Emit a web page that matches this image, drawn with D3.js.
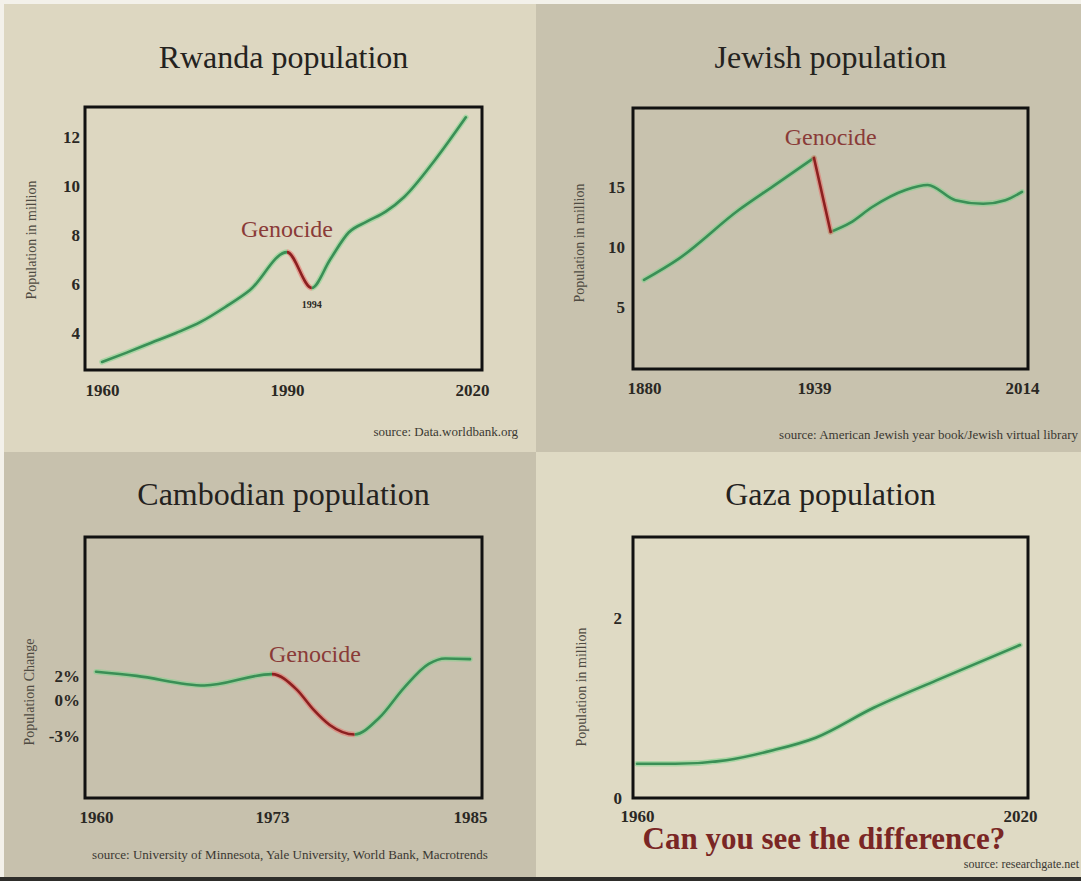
<!DOCTYPE html>
<html lang="en">
<head>
<meta charset="utf-8">
<title>Can you see the difference?</title>
<script src="https://d3js.org/d3.v7.min.js"></script>
<style type="text/css">
  body { margin: 0; background: #ffffff; }
  svg { display: block; }
</style>
</head>
<body>
<div id="graph"></div>
<script type="text/javascript">

// ---- data ----
var rwandaYears = [1960, 1964, 1968, 1972, 1976, 1980, 1984, 1990, 1994, 1997, 2000, 2003, 2006, 2009, 2014, 2019];
var rwandaPop   = [2.82, 3.2, 3.6, 4.0, 4.45, 5.06, 5.75, 7.3, 5.84, 7.0, 8.1, 8.55, 8.95, 9.55, 11.06, 12.8];
var rwandaGenocide = [1990, 1994];
var rwandaXTicks = [1960, 1990, 2020];
var rwandaYTicks = [4, 6, 8, 10, 12];

var jewishYears = [1880, 1892, 1913, 1925, 1939, 1945, 1952, 1960, 1972, 1980, 1990, 2000, 2008, 2014];
var jewishPop   = [7.24, 9.0, 13.1, 15.1, 17.43, 11.25, 12.0, 13.33, 14.75, 15.17, 13.9, 13.6, 13.9, 14.6];
var jewishGenocide = [1939, 1945];
var jewishXTicks = [1880, 1939, 2014];
var jewishYTicks = [5, 10, 15];

var cambodiaYears  = [1960, 1963, 1968, 1973, 1974.5, 1975.5, 1976.5, 1978, 1979.5, 1981, 1982.5, 1983.5, 1985];
var cambodiaChange = [2.35, 2.0, 1.2, 2.15, 0.85, -0.8, -2.1, -2.9, -1.5, 1.0, 3.0, 3.45, 3.4];
var cambodiaGenocide = [1973, 1978];
var cambodiaXTicks = [1960, 1973, 1985];
var cambodiaYTicks = [2, 0, -3];

var gazaYears = [1960, 1966, 1974, 1981, 1988, 1997, 2007, 2020];
var gazaPop   = [0.38, 0.38, 0.42, 0.525, 0.67, 1.0, 1.31, 1.7];
var gazaXTicks = [1960, 2020];
var gazaYTicks = [0, 2];

var serif = "'Liberation Serif', 'Times New Roman', serif";
var W = 1081, H = 881;

var svg = d3.select("#graph")
  .append("svg")
  .attr("width", W)
  .attr("height", H)
  .attr("font-family", serif);

// photo frame: white top / left edge, dark bottom edge
svg.append("rect").attr("width", W).attr("height", H).attr("fill", "#f3f1ea");

function drawPanel(p) {
  var g = svg.append("g");
  var box = p.box; // left, top, right, bottom

  g.append("rect")
    .attr("x", p.bg[0]).attr("y", p.bg[1])
    .attr("width", p.bg[2]).attr("height", p.bg[3])
    .attr("fill", p.fill);

  var x = d3.scaleLinear().domain(p.xDomain).range(p.xRange);
  var y = d3.scaleLinear().domain(p.yDomain).range([box[3], box[1]]);

  // title
  g.append("text")
    .attr("x", (box[0] + box[2]) / 2)
    .attr("y", p.titleY)
    .attr("text-anchor", "middle")
    .attr("font-size", 32)
    .attr("fill", "#24221e")
    .text(p.title);

  // y axis title
  g.append("text")
    .attr("transform", "translate(" + p.yLabelPos[0] + "," + p.yLabelPos[1] + ") rotate(-90)")
    .attr("text-anchor", "middle")
    .attr("dominant-baseline", "middle")
    .attr("font-size", 14)
    .attr("fill", "#4f4b42")
    .text(p.yLabel);

  // axes (labels only)
  var xa = g.append("g")
    .attr("transform", "translate(0," + box[3] + ")")
    .call(d3.axisBottom(x).tickValues(p.xTicks).tickSize(0).tickPadding(p.xPad).tickFormat(d3.format("d")));
  xa.select(".domain").remove();
  xa.attr("font-family", serif).attr("font-size", 17).attr("font-weight", "bold").attr("color", "#2a2824");

  var ya = g.append("g")
    .attr("transform", "translate(" + box[0] + ",0)")
    .call(d3.axisLeft(y).tickValues(p.yTicks).tickSize(0).tickPadding(p.yPad).tickFormat(p.yFormat));
  ya.select(".domain").remove();
  ya.attr("font-family", serif).attr("font-size", 17).attr("font-weight", "bold").attr("color", "#2a2824");

  // series
  var pts = d3.zip(p.years, p.values);
  var line = d3.line()
    .x(function(d) { return x(d[0]); })
    .y(function(d) { return y(d[1]); })
    .curve(d3.curveMonotoneX);

  function stroke(data, outer, inner, clip) {
    var s = g.append("g");
    if (clip) s.attr("clip-path", "url(#" + clip + ")");
    s.append("path").datum(data).attr("d", line)
      .attr("fill", "none").attr("stroke", outer).attr("stroke-width", 5.5)
      .attr("stroke-opacity", 0.55).attr("stroke-linecap", "round");
    s.append("path").datum(data).attr("d", line)
      .attr("fill", "none").attr("stroke", inner).attr("stroke-width", 2.6)
      .attr("stroke-linecap", "round");
  }

  var greenOuter = "#7ed38b", greenInner = "#3a8f56";
  var redOuter = "#e86b66", redInner = "#8c2020";

  if (!p.genocide) {
    stroke(pts, greenOuter, greenInner);
  } else if (p.split === "break") {
    var a = p.genocide[0], b = p.genocide[1];
    stroke(pts.filter(function(d) { return d[0] <= a; }), greenOuter, greenInner);
    stroke(pts.filter(function(d) { return d[0] >= b; }), greenOuter, greenInner);
    stroke(pts.filter(function(d) { return d[0] >= a && d[0] <= b; }), redOuter, redInner);
  } else {
    var xa0 = x(p.genocide[0]), xa1 = x(p.genocide[1]);
    var defs = g.append("defs");
    defs.append("clipPath").attr("id", "in-" + p.id)
      .append("rect").attr("x", xa0).attr("y", 0).attr("width", xa1 - xa0).attr("height", H);
    var out = defs.append("clipPath").attr("id", "out-" + p.id);
    out.append("rect").attr("x", 0).attr("y", 0).attr("width", xa0).attr("height", H);
    out.append("rect").attr("x", xa1).attr("y", 0).attr("width", W - xa1).attr("height", H);
    stroke(pts, greenOuter, greenInner, "out-" + p.id);
    stroke(pts, redOuter, redInner, "in-" + p.id);
  }

  // frame
  g.append("rect")
    .attr("x", box[0]).attr("y", box[1])
    .attr("width", box[2] - box[0]).attr("height", box[3] - box[1])
    .attr("fill", "none").attr("stroke", "#111").attr("stroke-width", 3);

  // notes placed in data coordinates
  (p.notes || []).forEach(function(n) {
    g.append("text")
      .attr("x", x(n.at[0])).attr("y", y(n.at[1]))
      .attr("text-anchor", "middle")
      .attr("font-size", n.size)
      .attr("font-weight", n.weight || "normal")
      .attr("fill", n.color)
      .text(n.text);
  });

  // source
  g.append("text")
    .attr("x", p.sourcePos[0]).attr("y", p.sourcePos[1])
    .attr("text-anchor", p.sourceAnchor)
    .attr("font-size", p.sourceSize || 13)
    .attr("fill", "#3a3832")
    .text(p.source);

  return g;
}

var genocideColor = "#8a3b38";

drawPanel({
  id: "rw", bg: [4, 4, 532, 448], fill: "#ddd7c1",
  box: [85, 107, 482, 370],
  xDomain: [1960, 2020], xRange: [102, 472],
  yDomain: [2.49, 13.22],
  title: "Rwanda population", titleY: 68,
  yLabel: "Population in million", yLabelPos: [33, 240],
  xTicks: rwandaXTicks, yTicks: rwandaYTicks, xPad: 14, yPad: 5, yFormat: d3.format("d"),
  years: rwandaYears, values: rwandaPop, genocide: rwandaGenocide, split: "clip",
  notes: [
    {text: "Genocide", at: [1990, 7.9], size: 24, color: genocideColor},
    {text: "1994", at: [1994, 5.0], size: 10, weight: "bold", color: "#2a2824"}
  ],
  source: "source:  Data.worldbank.org", sourcePos: [518, 436], sourceAnchor: "end"
});

drawPanel({
  id: "jw", bg: [536, 4, 545, 448], fill: "#c8c2ae",
  box: [633, 108, 1028, 369],
  xDomain: [1880, 1939, 2014], xRange: [644, 814, 1022],
  yDomain: [-0.2, 21.6],
  title: "Jewish population", titleY: 68,
  yLabel: "Population in million", yLabelPos: [581, 243],
  xTicks: jewishXTicks, yTicks: jewishYTicks, xPad: 13, yPad: 8, yFormat: d3.format("d"),
  years: jewishYears, values: jewishPop, genocide: jewishGenocide, split: "break",
  notes: [
    {text: "Genocide", at: [1945, 18.5], size: 24, color: genocideColor}
  ],
  source: "source:  American Jewish year book/Jewish virtual library", sourcePos: [1078, 439], sourceAnchor: "end"
});

drawPanel({
  id: "kh", bg: [4, 452, 532, 425], fill: "#c7c1ad",
  box: [85, 537, 482, 798],
  xDomain: [1960, 1973, 1985], xRange: [96, 272, 470],
  yDomain: [-8.2, 13.6],
  title: "Cambodian population", titleY: 505,
  yLabel: "Population Change", yLabelPos: [31, 692],
  xTicks: cambodiaXTicks, yTicks: cambodiaYTicks, xPad: 13, yPad: 5, yFormat: function(d) { return d + "%"; },
  years: cambodiaYears, values: cambodiaChange, genocide: cambodiaGenocide, split: "clip",
  notes: [
    {text: "Genocide", at: [1975.6, 3.2], size: 24, color: genocideColor}
  ],
  source: "source:  University of Minnesota, Yale University, World Bank, Macrotrends", sourcePos: [290, 859], sourceAnchor: "middle"
});

var gz = drawPanel({
  id: "gz", bg: [536, 452, 545, 425], fill: "#dfdac4",
  box: [633, 537, 1028, 798],
  xDomain: [1960, 2020], xRange: [637, 1020],
  yDomain: [0, 2.9],
  title: "Gaza population", titleY: 505,
  yLabel: "Population in million", yLabelPos: [583, 687],
  xTicks: gazaXTicks, yTicks: gazaYTicks, xPad: 12, yPad: 11, yFormat: d3.format("d"),
  years: gazaYears, values: gazaPop, genocide: null,
  notes: [],
  source: "source:  researchgate.net", sourcePos: [1079, 868], sourceAnchor: "end", sourceSize: 12
});

gz.append("text")
  .attr("x", 824).attr("y", 849)
  .attr("text-anchor", "middle")
  .attr("font-size", 31)
  .attr("font-weight", "bold")
  .attr("fill", "#7a2624")
  .text("Can you see the difference?");

// dark bottom edge of the photo
svg.append("rect").attr("x", 0).attr("y", 877).attr("width", W).attr("height", 4).attr("fill", "#2e2d2a");

</script>
</body>
</html>
